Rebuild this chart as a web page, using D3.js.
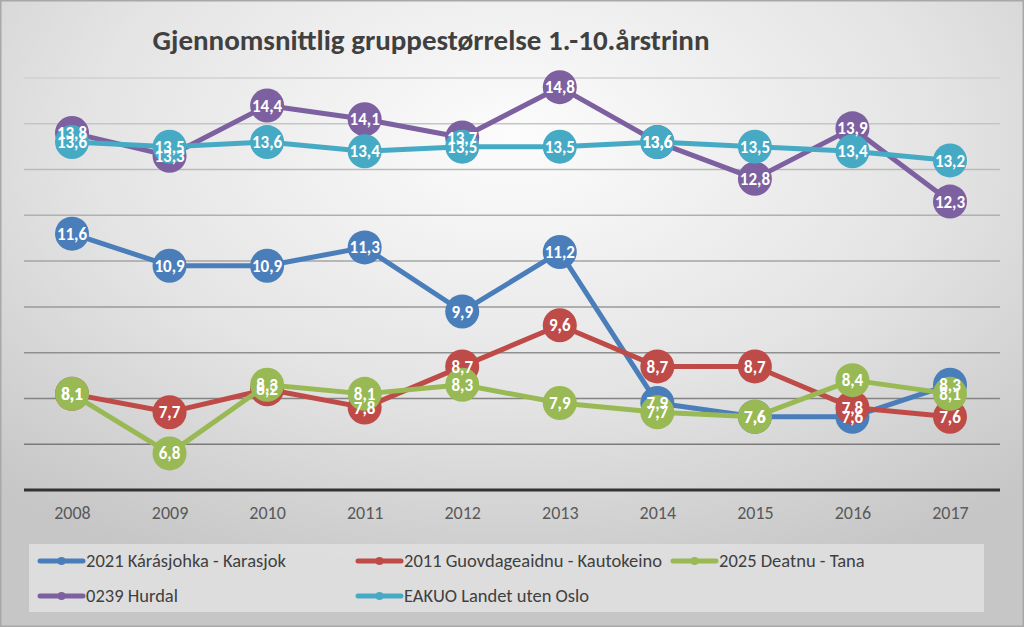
<!DOCTYPE html>
<html><head><meta charset="utf-8">
<script src="https://cdn.jsdelivr.net/npm/d3@7"></script>
<style>
html,body{margin:0;padding:0;background:#ccc;}
svg{display:block;}
</style></head>
<body>
<svg id="c" width="1024" height="627"></svg>
<script>
const years = ["2008","2009","2010","2011","2012","2013","2014","2015","2016","2017"];
const karasjok   = [11.6,10.9,10.9,11.3,9.9,11.2,7.9,7.6,7.6,8.3];
const kautokeino = [8.1,7.7,8.2,7.8,8.7,9.6,8.7,8.7,7.8,7.6];
const tana       = [8.1,6.8,8.3,8.1,8.3,7.9,7.7,7.6,8.4,8.1];
const hurdal     = [13.8,13.3,14.4,14.1,13.7,14.8,13.6,12.8,13.9,12.3];
const eakuo      = [13.6,13.5,13.6,13.4,13.5,13.5,13.6,13.5,13.4,13.2];
const seriesNames = ["2021 Kárásjohka - Karasjok","2011 Guovdageaidnu - Kautokeino","2025 Deatnu - Tana","0239 Hurdal","EAKUO Landet uten Oslo"];
const yTicks = [6,7,8,9,10,11,12,13,14,15];
const title = "Gjennomsnittlig gruppestørrelse 1.-10.årstrinn";

const colors = ["#4a7ebb","#be4b48","#98b954","#7d60a0","#46aac5"];
const series = [karasjok,kautokeino,tana,hurdal,eakuo].map((v,i)=>({name:seriesNames[i],values:v,color:colors[i]}));
const FONT = "Carlito, Calibri, Lato, 'Open Sans', sans-serif";

const svg = d3.select("#c");
const defs = svg.append("defs");
const rg = defs.append("radialGradient").attr("id","bg").attr("cx","0.5").attr("cy","0.22").attr("r","0.75");
rg.append("stop").attr("offset","0").attr("stop-color","#fcfcfc");
rg.append("stop").attr("offset","0.55").attr("stop-color","#e4e4e4");
rg.append("stop").attr("offset","1").attr("stop-color","#c6c6c6");
svg.append("rect").attr("width",1024).attr("height",627).attr("fill","url(#bg)");
svg.append("rect").attr("x",0.5).attr("y",0.5).attr("width",1023).attr("height",626).attr("fill","none").attr("stroke","#a8a8a8").attr("stroke-width",2);

const x = d3.scalePoint().domain(years).range([72,950]);
const y = d3.scaleLinear().domain([6,15]).range([490,78]);

// gridlines
const gridCol = d3.scaleLinear().domain([78,443]).range(["#d0d0d0","#7a7a7a"]);
svg.append("g").selectAll("line").data(yTicks.filter(t=>t>6)).join("line")
  .attr("x1",24).attr("x2",1000)
  .attr("y1",d=>y(d)).attr("y2",d=>y(d))
  .attr("stroke",d=>gridCol(y(d))).attr("stroke-width",1.5);

// x axis
const xa = svg.append("g").attr("transform",`translate(0,${y(6)})`)
  .call(d3.axisBottom(x).tickSize(0).tickPadding(16));
xa.select(".domain").attr("d","M24,0H1000").attr("stroke","#333").attr("stroke-width",3);
xa.selectAll("text").attr("font-family",FONT).attr("font-size",18).attr("fill","#595959");

// title
svg.append("text").attr("x",431).attr("y",50).attr("text-anchor","middle")
  .attr("font-family",FONT).attr("font-weight","bold")
  .attr("font-size",29).attr("fill","#404040").text(title);

// lines & markers
const line = d3.line().x((d,i)=>x(years[i])).y(d=>y(d));
series.forEach(s=>{
  const g = svg.append("g");
  g.append("path").attr("d",line(s.values)).attr("fill","none").attr("stroke",s.color).attr("stroke-width",5).attr("stroke-linejoin","round");
  g.selectAll("circle").data(s.values).join("circle")
    .attr("cx",(d,i)=>x(years[i])).attr("cy",d=>y(d)).attr("r",17).attr("fill",s.color);
});
// labels
series.forEach(s=>{
  svg.append("g").selectAll("text").data(s.values).join("text")
    .attr("x",(d,i)=>x(years[i])).attr("y",d=>y(d)).attr("dy","0.36em")
    .attr("text-anchor","middle").attr("font-family",FONT)
    .attr("font-weight","bold").attr("font-size",17).attr("fill","#fff")
    .text(d=>d3.format(".1f")(d).replace(".",","));
});

// legend
svg.append("rect").attr("x",29).attr("y",544).attr("width",955).attr("height",68).attr("fill","#e0e0e0").attr("opacity",0.85);
const legPos = [[40,561],[358,561],[673,561],[40,596],[358,596]];
series.forEach((s,i)=>{
  const [lx,ly] = legPos[i];
  const g = svg.append("g").attr("transform",`translate(${lx},${ly})`);
  g.append("line").attr("x1",0).attr("x2",43).attr("stroke",s.color).attr("stroke-width",5).attr("stroke-linecap","round");
  g.append("circle").attr("cx",21.5).attr("r",4).attr("fill",s.color);
  g.append("text").attr("x",46).attr("dy","0.35em").attr("font-family",FONT)
    .attr("font-size",18.5).attr("fill","#404040").text(s.name);
});
</script>
</body></html>
